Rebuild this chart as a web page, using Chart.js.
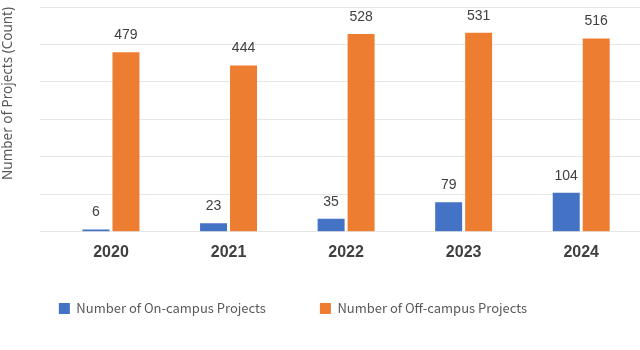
<!DOCTYPE html>
<html>
<head>
<meta charset="utf-8">
<script src="https://cdn.jsdelivr.net/npm/chart.js@4.4.1/dist/chart.umd.min.js"></script>
<style>
  html, body { margin: 0; padding: 0; background: #fff; }
  #wrap { width: 640px; height: 350px; }
</style>
</head>
<body>
<div id="wrap"><canvas id="barChart"></canvas></div>
<script>
const years = ["2020", "2021", "2022", "2023", "2024"];
const onCampus = [6, 23, 35, 79, 104];
const offCampus = [479, 444, 528, 531, 516];
const seriesNames = ["Number of On-campus Projects", "Number of Off-campus Projects"];
const yTicks = [0, 100, 200, 300, 400, 500, 600];

const cjkFont = "'Noto Sans CJK KR', 'Noto Sans', sans-serif";
const sansFont = "'Liberation Sans', Arial, sans-serif";

// values written above each bar
const valueLabels = {
  id: "valueLabels",
  afterDatasetsDraw(chart) {
    const ctx = chart.ctx;
    ctx.save();
    ctx.font = "14px " + sansFont;
    ctx.fillStyle = "#404040";
    ctx.textAlign = "center";
    ctx.textBaseline = "middle";
    chart.data.datasets.forEach((ds, i) => {
      chart.getDatasetMeta(i).data.forEach((bar, j) => {
        ctx.fillText(ds.data[j], bar.x, bar.y - 17);
      });
    });
    ctx.restore();
  }
};

// legend sits left of centre and closer to the axis in the original;
// its box is also grown so the wide label padding is not clipped
const shiftLegend = {
  id: "shiftLegend",
  afterLayout(chart) {
    const lg = chart.legend;
    lg.left -= 27;
    lg.right -= 27;
    lg.top -= 17;
    lg.bottom = lg.top + 100;
  }
};

new Chart(document.getElementById("barChart"), {
  type: "bar",
  data: {
    labels: years,
    datasets: [
      { label: seriesNames[0], data: onCampus, backgroundColor: "#4472C4" },
      { label: seriesNames[1], data: offCampus, backgroundColor: "#ED7D31" }
    ]
  },
  options: {
    responsive: true,
    maintainAspectRatio: false,
    animation: false,
    datasets: { bar: { barPercentage: 0.9, categoryPercentage: 0.51 } },
    layout: { padding: { top: 7, right: 0, bottom: 55, left: 0 } },
    scales: {
      x: {
        grid: { display: false },
        border: { display: false },
        ticks: {
          color: "#404040",
          padding: 3,
          font: { family: sansFont, size: 16, weight: "bold" }
        }
      },
      y: {
        min: 0,
        max: 600,
        afterBuildTicks: (axis) => { axis.ticks = yTicks.map(v => ({ value: v })); },
        border: { display: false },
        grid: { color: "#e6e6e6", lineWidth: 1, tickLength: 12 },
        ticks: { display: false },
        title: {
          display: true,
          text: "Number of Projects (Count)",
          align: "end",
          color: "#595959",
          padding: { top: 0, bottom: 24 },
          font: { family: "'Noto Sans', sans-serif", size: 13.5 }
        }
      }
    },
    plugins: {
      legend: {
        position: "bottom",
        maxHeight: 30,
        labels: {
          boxWidth: 11,
          boxHeight: 11,
          padding: 54,
          color: "#595959",
          font: { family: cjkFont, size: 13 }
        }
      },
      tooltip: { enabled: false }
    }
  },
  plugins: [valueLabels, shiftLegend]
});
</script>
</body>
</html>
